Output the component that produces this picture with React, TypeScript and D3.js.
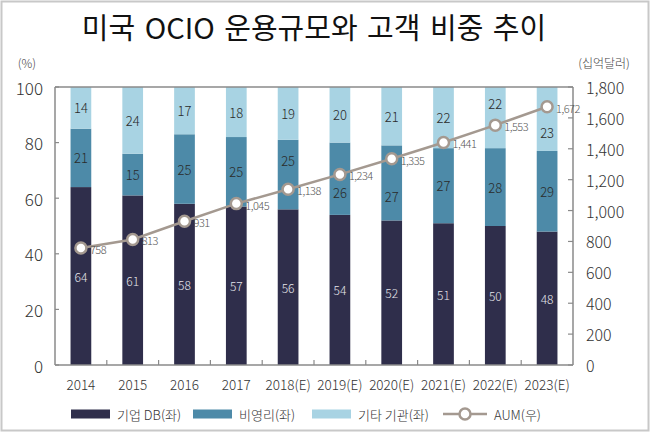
import React, { useEffect, useRef } from "react";
import * as d3 from "d3";

const years = ["2014", "2015", "2016", "2017", "2018(E)", "2019(E)", "2020(E)", "2021(E)", "2022(E)", "2023(E)"];
const corporateDB = [64, 61, 58, 57, 56, 54, 52, 51, 50, 48];
const nonProfit = [21, 15, 25, 25, 25, 26, 27, 27, 28, 29];
const otherInst = [14, 24, 17, 18, 19, 20, 21, 22, 22, 23];
const aum = [758, 813, 931, 1045, 1138, 1234, 1335, 1441, 1553, 1672];

const leftTicks = [0, 20, 40, 60, 80, 100];
const rightTicks = [0, 200, 400, 600, 800, 1000, 1200, 1400, 1600, 1800];

const FONT = "'Noto Sans CJK KR', 'Noto Sans', sans-serif";
const colors = { dark: "#2f2e4b", mid: "#4d8aa8", light: "#a8d3e3", line: "#a49990", axis: "#8a8a8a" };

const App: React.FC = () => {
	const ref = useRef<SVGSVGElement>(null);

	useEffect(() => {
		const svg = d3.select(ref.current);
		svg.selectAll("*").remove();

		const margin = { top: 87, left: 55, right: 77, bottom: 67 };
		const W = 650;
		const H = 432;
		const width = W - margin.left - margin.right;
		const height = H - margin.top - margin.bottom;

		// outer frame
		svg.append("rect")
			.attr("x", 1.5)
			.attr("y", 1.5)
			.attr("width", W - 3)
			.attr("height", H - 3)
			.attr("fill", "#fff")
			.attr("stroke", "#c8c8c8")
			.attr("stroke-width", 2);

		svg.append("text")
			.attr("x", 314)
			.attr("y", 26)
			.attr("text-anchor", "middle")
			.attr("dominant-baseline", "central")
			.style("font-family", FONT)
			.style("font-size", "29px")
			.style("word-spacing", "3px")
			.attr("fill", "#111")
			.text("미국 OCIO 운용규모와 고객 비중 추이");

		const g = svg.append("g").attr("transform", `translate(${margin.left},${margin.top})`);

		const x = d3.scaleBand().domain(years).range([0, width]).paddingInner(0.6).paddingOuter(0.3);
		const band = d3.scaleBand().domain(years).range([0, width]);
		const y = d3.scaleLinear().domain([0, 100]).range([height, 0]);
		const y2 = d3.scaleLinear().domain([0, 1800]).range([height, 0]);

		const rows = years.map((yr, i) => ({ year: yr, dark: corporateDB[i], mid: nonProfit[i], light: otherInst[i], aum: aum[i] }));
		const stack = d3.stack<any>().keys(["dark", "mid", "light"])(rows);
		const fills: Record<string, string> = colors as any;

		stack.forEach((layer) => {
			const key = layer.key;
			g.selectAll(`rect.${key}`)
				.data(layer)
				.enter()
				.append("rect")
				.attr("class", key)
				.attr("x", (d: any) => x(d.data.year) || 0)
				.attr("width", x.bandwidth())
				.attr("y", (d: any) => y(key === "light" ? 100 : d[1]))
				.attr("height", (d: any) => y(d[0]) - y(key === "light" ? 100 : d[1]))
				.attr("fill", fills[key]);
		});

		// segment labels, nudged away from the AUM line when it runs through them
		stack.forEach((layer) => {
			const key = layer.key;
			layer.forEach((d: any) => {
				const top = y(key === "light" ? 100 : d[1]);
				const bot = y(d[0]);
				let cy = (top + bot) / 2;
				if (key !== "dark") {
					const ly = y2(d.data.aum);
					const diff = ly - cy;
					if (Math.abs(diff) < 24.5) {
						cy = cy - Math.sign(diff || 1) * 14;
						cy = Math.max(top + 13, Math.min(bot - 13, cy));
					}
				}
				g.append("text")
					.attr("x", (x(d.data.year) || 0) + x.bandwidth() / 2)
					.attr("y", cy)
					.attr("text-anchor", "middle")
					.attr("dominant-baseline", "central")
					.style("font-family", FONT)
					.style("font-size", key === "dark" ? "12px" : "13px")
					.style("font-weight", 300)
					.attr("fill", key === "dark" ? "#e4e4ea" : "#2a2a2a")
					.text(d.data[key]);
			});
		});

		// axes frame
		g.append("line").attr("x1", 0).attr("x2", width).attr("y1", 0).attr("y2", 0).attr("stroke", colors.axis).attr("stroke-width", 1.5);
		g.append("line").attr("x1", 0).attr("x2", width).attr("y1", height).attr("y2", height).attr("stroke", colors.axis).attr("stroke-width", 1.5);
		g.append("line").attr("x1", 0).attr("x2", 0).attr("y1", 0).attr("y2", height).attr("stroke", colors.axis).attr("stroke-width", 1.5);
		g.append("line").attr("x1", width).attr("x2", width).attr("y1", 0).attr("y2", height).attr("stroke", colors.axis).attr("stroke-width", 1.5);

		// left ticks
		leftTicks.forEach((t) => {
			g.append("line").attr("x1", 0).attr("x2", 4).attr("y1", y(t)).attr("y2", y(t)).attr("stroke", colors.axis).attr("stroke-width", 1.2);
			g.append("text")
				.attr("x", -12)
				.attr("y", y(t))
				.attr("text-anchor", "end")
				.attr("dominant-baseline", "central")
				.style("font-family", FONT)
				.style("font-size", "17px")
				.style("font-weight", 300)
				.attr("fill", "#333")
				.text(t);
		});

		// right ticks
		rightTicks.forEach((t) => {
			g.append("line").attr("x1", width - 5).attr("x2", width).attr("y1", y2(t)).attr("y2", y2(t)).attr("stroke", colors.axis).attr("stroke-width", 1.2);
			g.append("text")
				.attr("x", width + 13)
				.attr("y", y2(t))
				.attr("text-anchor", "start")
				.attr("dominant-baseline", "central")
				.style("font-family", FONT)
				.style("font-size", "16px")
				.style("font-weight", 300)
				.attr("fill", "#333")
				.text(d3.format(",")(t));
		});

		// bottom ticks between categories
		years.slice(1).forEach((yr) => {
			const bx = band(yr) || 0;
			g.append("line").attr("x1", bx).attr("x2", bx).attr("y1", height).attr("y2", height - 5).attr("stroke", colors.axis).attr("stroke-width", 1.2);
		});
		years.forEach((yr) => {
			g.append("text")
				.attr("x", (band(yr) || 0) + band.bandwidth() / 2)
				.attr("y", height + 19)
				.attr("text-anchor", "middle")
				.attr("dominant-baseline", "central")
				.style("font-family", FONT)
				.style("font-size", "13.5px")
				.style("font-weight", 300)
				.attr("fill", "#333")
				.text(yr);
		});

		// unit labels
		svg.append("text").attr("x", 27).attr("y", 62).attr("text-anchor", "middle").attr("dominant-baseline", "central")
			.style("font-family", FONT).style("font-size", "12px").style("font-weight", 300).attr("fill", "#444").text("(%)");
		svg.append("text").attr("x", 604).attr("y", 62).attr("text-anchor", "middle").attr("dominant-baseline", "central")
			.style("font-family", FONT).style("font-size", "12px").style("font-weight", 300).attr("fill", "#444").text("(십억달러)");

		// AUM line
		const cx = (yr: string) => (x(yr) || 0) + x.bandwidth() / 2;
		const line = d3.line<any>().x((d) => cx(d.year)).y((d) => y2(d.aum));
		g.append("path").datum(rows).attr("d", line).attr("fill", "none").attr("stroke", colors.line).attr("stroke-width", 2.5);
		g.selectAll("circle.aum")
			.data(rows)
			.enter()
			.append("circle")
			.attr("class", "aum")
			.attr("cx", (d) => cx(d.year))
			.attr("cy", (d) => y2(d.aum))
			.attr("r", 5.5)
			.attr("fill", "#fff")
			.attr("stroke", colors.line)
			.attr("stroke-width", 2.5);
		g.selectAll("text.aum")
			.data(rows)
			.enter()
			.append("text")
			.attr("class", "aum")
			.attr("x", (d) => cx(d.year) + 9)
			.attr("y", (d) => y2(d.aum) + 1)
			.attr("dominant-baseline", "central")
			.style("font-family", FONT)
			.style("font-size", "11px")
			.style("font-weight", 300)
			.style("letter-spacing", "-0.5px")
			.attr("fill", "#555")
			.text((d) => d3.format(",")(d.aum));

		// legend
		const ly = 414;
		const legend = svg.append("g");
		const items = [
			{ label: "기업 DB(좌)", color: colors.dark, x: 71 },
			{ label: "비영리(좌)", color: colors.mid, x: 193 },
			{ label: "기타 기관(좌)", color: colors.light, x: 312 },
		];
		items.forEach((it) => {
			legend.append("rect").attr("x", it.x).attr("y", ly - 4.5).attr("width", 39).attr("height", 9).attr("fill", it.color);
			legend.append("text").attr("x", it.x + 46).attr("y", ly).attr("dominant-baseline", "central")
				.style("font-family", FONT).style("font-size", "13px").style("font-weight", 300).attr("fill", "#333").text(it.label);
		});
		legend.append("line").attr("x1", 443).attr("x2", 487).attr("y1", ly).attr("y2", ly).attr("stroke", colors.line).attr("stroke-width", 2.5);
		legend.append("circle").attr("cx", 465).attr("cy", ly).attr("r", 5.5).attr("fill", "#fff").attr("stroke", colors.line).attr("stroke-width", 2.5);
		legend.append("text").attr("x", 494).attr("y", ly).attr("dominant-baseline", "central")
			.style("font-family", FONT).style("font-size", "13px").style("font-weight", 300).attr("fill", "#333").text("AUM(우)");
	}, []);

	return (
		<div style={{ position: "absolute", left: 0, top: 0 }}>
			<svg ref={ref} width={650} height={432} style={{ display: "block" }} />
		</div>
	);
};

export default App;
